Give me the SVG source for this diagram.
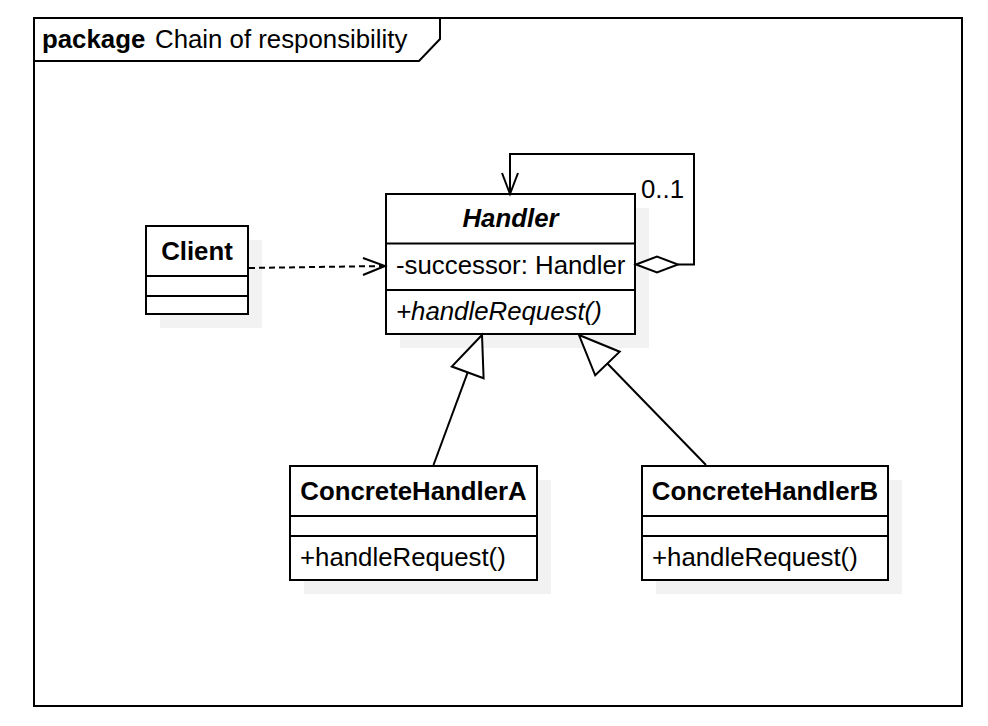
<svg xmlns="http://www.w3.org/2000/svg" width="988" height="726" viewBox="0 0 988 726">
<style>
text{font-family:"Liberation Sans",Arial,sans-serif;font-size:25.8px;fill:#000}
.b{font-weight:bold}
.i{font-style:italic}
.c{text-anchor:middle}
.box{fill:#fff;stroke:#000;stroke-width:2}
.sh{fill:#f2f2f2}
.ln{fill:none;stroke:#000;stroke-width:2}
</style>
<rect width="988" height="726" fill="#fff"/>
<g id="frame">
<rect x="34" y="18" width="928" height="688" fill="none" stroke="#000" stroke-width="2"/>
<polyline class="ln" points="34,61 419,61 440,39 440,18"/>
<text x="42" y="48" class="b">package</text>
<text x="155" y="48">Chain of responsibility</text>
</g>
<g id="client">
<rect class="sh" x="160" y="240" width="102" height="88"/>
<rect class="box" x="146" y="226" width="102" height="88"/>
<line class="ln" x1="146" y1="276" x2="248" y2="276"/>
<line class="ln" x1="146" y1="296" x2="248" y2="296"/>
<text x="197" y="260" class="b c">Client</text>
</g>
<g id="handler">
<rect class="sh" x="400" y="208" width="249" height="140"/>
<rect class="box" x="386" y="194" width="249" height="140"/>
<line class="ln" x1="386" y1="243.5" x2="635" y2="243.5"/>
<line class="ln" x1="386" y1="290" x2="635" y2="290"/>
<text x="510.5" y="227" class="b i c">Handler</text>
<text x="396" y="274">-successor: Handler</text>
<text x="396" y="320" class="i">+handleRequest()</text>
</g>
<g id="concreteHandlerA">
<rect class="sh" x="304" y="480" width="247" height="114"/>
<rect class="box" x="290" y="466" width="247" height="114"/>
<line class="ln" x1="290" y1="516" x2="537" y2="516"/>
<line class="ln" x1="290" y1="536" x2="537" y2="536"/>
<text x="413.5" y="500" class="b c">ConcreteHandlerA</text>
<text x="300" y="566">+handleRequest()</text>
</g>
<g id="concreteHandlerB">
<rect class="sh" x="656" y="480" width="246" height="114"/>
<rect class="box" x="642" y="466" width="246" height="114"/>
<line class="ln" x1="642" y1="516" x2="888" y2="516"/>
<line class="ln" x1="642" y1="536" x2="888" y2="536"/>
<text x="765" y="500" class="b c">ConcreteHandlerB</text>
<text x="652" y="566">+handleRequest()</text>
</g>
<g id="connectors">
<line class="ln" x1="249" y1="268" x2="384" y2="266" stroke-dasharray="6,4"/>
<polyline class="ln" points="363,258 385,266 363,275"/>
<polyline class="ln" points="678,264.5 694,264.5 694,154 510,154 510,193"/>
<polyline class="ln" points="502,173 510,194 518,173"/>
<polygon class="box" points="636,264.5 657,256.5 678,264.5 657,272.5"/>
<text x="641" y="198">0..1</text>
<line class="ln" x1="433.5" y1="465" x2="467.7" y2="372.4"/>
<polygon class="box" points="482,335 483.6,378.3 451.8,366.5"/>
<line class="ln" x1="706" y1="465" x2="607.4" y2="363.5"/>
<polygon class="box" points="579,335 619.7,351.7 595.2,375.3"/>
</g>
</svg>
